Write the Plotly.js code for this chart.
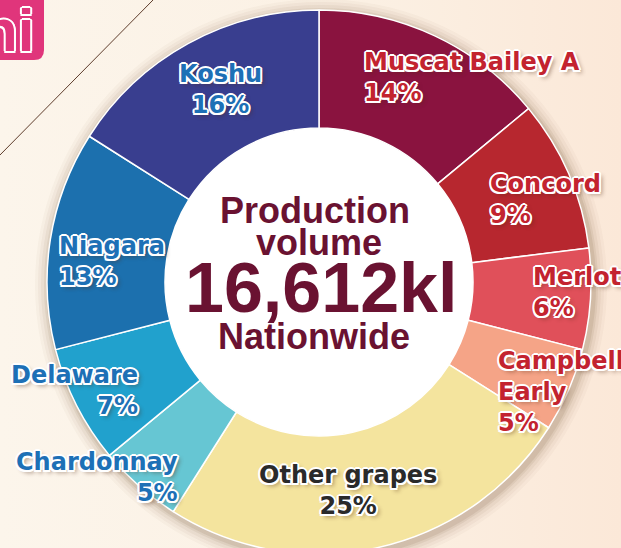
<!DOCTYPE html>
<html>
<head>
<meta charset="utf-8">
<script src="https://cdn.plot.ly/plotly-3.0.1.min.js"></script>
<style>
  html, body { margin: 0; padding: 0; width: 621px; height: 548px; overflow: hidden;
    background: linear-gradient(90deg, #fcf5eb 0%, #fbf0e3 60%, #fbe8d8 100%); }
  #chart { width: 621px; height: 564px; }
</style>
</head>
<body>
<div id="chart"></div>
<script>
// ---- data ----
const grapes = ['Muscat Bailey A', 'Concord', 'Merlot', 'Campbell Early', 'Other grapes', 'Chardonnay', 'Delaware', 'Niagara', 'Koshu'];
const shares = [14, 9, 6, 5, 25, 5, 7, 13, 16];
const sliceColors = ['#8a133f', '#b7272f', '#e0505a', '#f5a487', '#f4e49e', '#66c6d3', '#21a1cd', '#1c70ae', '#393e8f'];
const labelDisplay = ['Muscat Bailey A', 'Concord', 'Merlot', 'Campbell<br>Early', 'Other grapes', 'Chardonnay', 'Delaware', 'Niagara', 'Koshu'];
const labelColors = ['#c3232f', '#c3232f', '#c3232f', '#c3232f', '#2a2a2a', '#1d70b6', '#1d70b6', '#1d70b6', '#1d70b6'];
const centerLines = ['Production', 'volume', '16,612kl', 'Nationwide'];

// ---- layout geometry (pixels) ----
const W = 621, H = 564;
const CX = 319, CY = 282, R = 272, RH = 154;
const px = x => x / W;
const py = y => 1 - y / H;

// label placement: [x, y-middle, anchor]
const labelPos = [
  [362, 77, 'left'], [488, 199, 'left'], [531, 292, 'left'], [496, 392, 'left'],
  [348, 490, 'center'], [180, 477, 'right'], [140, 390, 'right'], [57, 261, 'left'], [220, 90, 'center']
];
const centerPos = [[315, 210, 36], [319, 242, 36], [321, 288, 70], [314, 337, 36]];

const outline = '2px 0 0 #fff, -2px 0 0 #fff, 0 2px 0 #fff, 0 -2px 0 #fff, 1.5px 1.5px 0 #fff, -1.5px -1.5px 0 #fff, 1.5px -1.5px 0 #fff, -1.5px 1.5px 0 #fff, 3px 3px 4px rgba(80,40,20,0.45)';

const trace = {
  type: 'pie',
  labels: grapes,
  values: shares,
  sort: false,
  direction: 'clockwise',
  rotation: 0,
  hole: RH / R,
  marker: { colors: sliceColors, line: { color: '#ffffff', width: 1.5 } },
  textinfo: 'none',
  hoverinfo: 'skip',
  showlegend: false,
  domain: { x: [px(CX - R), px(CX + R)], y: [py(CY + R), py(CY - R)] }
};

const annotations = [];
grapes.forEach((g, i) => {
  const p = labelPos[i];
  annotations.push({
    xref: 'paper', yref: 'paper', x: px(p[0]), y: py(p[1]),
    xanchor: p[2], yanchor: 'middle', align: p[2], showarrow: false,
    text: labelDisplay[i] + '<br>' + shares[i] + '%',
    font: { family: 'DejaVu Sans', size: 24, weight: 700, color: labelColors[i], shadow: outline }
  });
});
centerLines.forEach((t, i) => {
  const p = centerPos[i];
  annotations.push({
    xref: 'paper', yref: 'paper', x: px(p[0]), y: py(p[1]),
    xanchor: 'center', yanchor: 'middle', showarrow: false,
    text: t,
    font: { family: 'Liberation Sans', size: p[2], weight: 700, color: '#6a1231' }
  });
});
// logo text
annotations.push({
  xref: 'paper', yref: 'paper', x: px(36), y: py(30),
  xanchor: 'right', yanchor: 'middle', showarrow: false, text: 'hi',
  font: { family: 'Liberation Sans', size: 60, weight: 700, color: '#e0357b',
    shadow: '2px 0 0 #fff, -2px 0 0 #fff, 0 2px 0 #fff, 0 -2px 0 #fff, 1.5px 1.5px 0 #fff, -1.5px -1.5px 0 #fff, 1.5px -1.5px 0 #fff, -1.5px 1.5px 0 #fff' }
});

const shapes = [];
// soft shadow around pie
[[14, 0.03], [11, 0.04], [8, 0.05], [5, 0.07], [3, 0.09]].forEach(([d, a]) => {
  shapes.push({ type: 'circle', xref: 'paper', yref: 'paper', layer: 'below',
    x0: px(CX + 2 - R - d), x1: px(CX + 2 + R + d), y0: py(CY + 3 + R + d), y1: py(CY + 3 - R - d),
    fillcolor: 'rgba(90,50,20,' + a + ')', line: { width: 0 } });
});
// white hole
shapes.push({ type: 'circle', xref: 'paper', yref: 'paper', layer: 'below',
  x0: px(CX - RH), x1: px(CX + RH), y0: py(CY + RH), y1: py(CY - RH),
  fillcolor: '#ffffff', line: { width: 0 } });
// diagonal line
shapes.push({ type: 'line', xref: 'paper', yref: 'paper', layer: 'below',
  x0: px(-2), y0: py(157), x1: px(155), y1: py(-2), line: { color: '#5e3d2c', width: 1 } });
// logo box
const lp = (x, y) => px(x) + ',' + py(y);
shapes.push({ type: 'path', xref: 'paper', yref: 'paper', layer: 'below',
  path: 'M ' + lp(-5, -5) + ' L ' + lp(44, -5) + ' L ' + lp(44, 50) + ' Q ' + lp(44, 60) + ' ' + lp(34, 60) + ' L ' + lp(-5, 60) + ' Z',
  fillcolor: '#e0357b', line: { width: 0 } });

const layout = {
  width: W, height: H,
  margin: { l: 0, r: 0, t: 0, b: 0, pad: 0 },
  paper_bgcolor: 'rgba(0,0,0,0)',
  plot_bgcolor: 'rgba(0,0,0,0)',
  showlegend: false,
  annotations: annotations,
  shapes: shapes
};

Plotly.newPlot('chart', [trace], layout, { staticPlot: true, displayModeBar: false });
</script>
</body>
</html>
